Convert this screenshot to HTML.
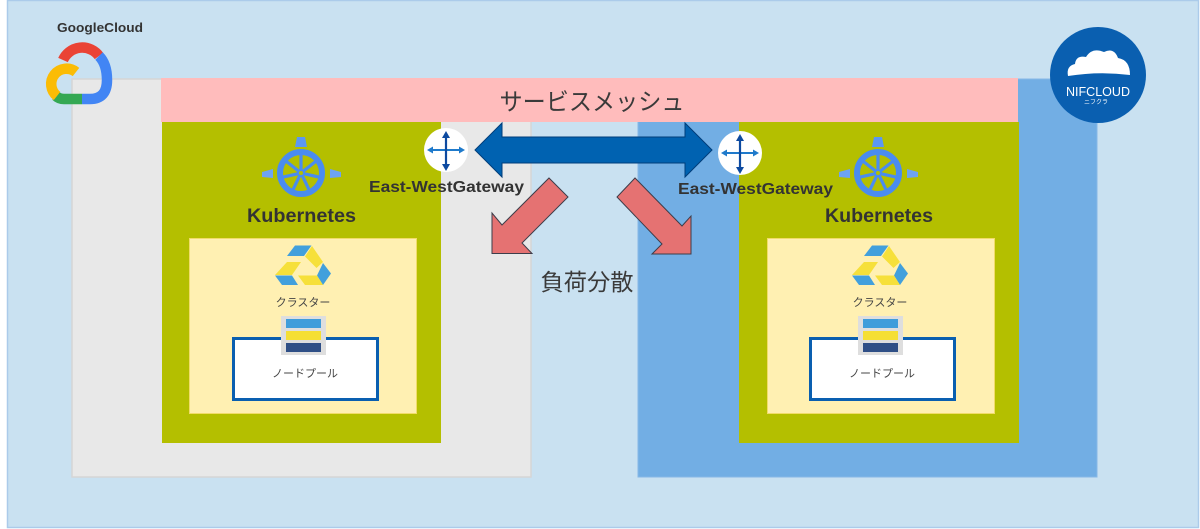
<!DOCTYPE html>
<html>
<head>
<meta charset="utf-8">
<style>
html,body{margin:0;padding:0;background:#fff;}
svg{display:block;}
text{font-family:"Liberation Sans","Noto Sans CJK JP",sans-serif;}
</style>
</head>
<body>
<svg width="1200" height="529" viewBox="0 0 1200 529" xmlns="http://www.w3.org/2000/svg">
  <!-- outer background -->
  <rect x="7.5" y="0.5" width="1191" height="527" fill="#c9e1f1" stroke="#abcbea" stroke-width="1.5"/>

  <!-- Google Cloud gray area -->
  <rect x="72" y="79" width="459" height="398" fill="#e8e8e8" stroke="#d6d6d6" stroke-width="1.5"/>
  <!-- NIFCLOUD blue area -->
  <rect x="638" y="79" width="459" height="398" fill="#72aee4" stroke="#86b8e6" stroke-width="1"/>

  <!-- service mesh band -->
  <rect x="161" y="78" width="857" height="44" fill="#ffbcbc"/>
  <text x="592" y="110" font-size="24" fill="#3a3a3a" text-anchor="middle" textLength="185" lengthAdjust="spacingAndGlyphs">サービスメッシュ</text>

  <!-- green k8s areas -->
  <rect x="162" y="122" width="279" height="321" fill="#b4bf00"/>
  <rect x="739" y="122" width="280" height="321" fill="#b4bf00"/>

  <!-- yellow cluster areas -->
  <rect x="189.5" y="238.5" width="227" height="175" fill="#fff0b2" stroke="#f1dc6a" stroke-width="1"/>
  <rect x="767.5" y="238.5" width="227" height="175" fill="#fff0b2" stroke="#f1dc6a" stroke-width="1"/>

  <!-- Kubernetes logos -->
  <g id="k8s">
    <polygon points="297,137 305,137 307,147 295,147" fill="#5b97f3"/>
    <polygon points="262,172 273,169 273,178 262,177" fill="#6da3f3"/>
    <polygon points="341,172 330,169 330,178 341,177" fill="#6da3f3"/>
    <circle cx="301" cy="173" r="21" fill="none" stroke="#4a8cf0" stroke-width="6"/>
    <circle cx="301" cy="173" r="3" fill="none" stroke="#4a8cf0" stroke-width="2"/>
    <g stroke="#4a8cf0" stroke-width="3.2" stroke-linecap="round">
      <line x1="301" y1="169" x2="301" y2="154"/>
      <line x1="304.1" y1="170.5" x2="315.9" y2="161.2"/>
      <line x1="304.9" y1="173.9" x2="319.5" y2="177.2"/>
      <line x1="302.7" y1="176.6" x2="309.2" y2="190.1"/>
      <line x1="299.3" y1="176.6" x2="292.8" y2="190.1"/>
      <line x1="297.1" y1="173.9" x2="282.5" y2="177.2"/>
      <line x1="297.9" y1="170.5" x2="286.1" y2="161.2"/>
    </g>
  </g>
  <use href="#k8s" x="577" y="0"/>
  <text x="301.5" y="222" font-size="19" font-weight="bold" fill="#333" text-anchor="middle" textLength="109" lengthAdjust="spacingAndGlyphs">Kubernetes</text>
  <text x="879" y="222" font-size="19" font-weight="bold" fill="#333" text-anchor="middle" textLength="108" lengthAdjust="spacingAndGlyphs">Kubernetes</text>

  <!-- Cluster icons -->
  <g id="cluster">
    <polygon points="287,256 295,245.5 311.5,245.5 304,256" fill="#42a0dc"/>
    <polygon points="312,246 323,262 316.5,268 305,256.5" fill="#f6e03a"/>
    <polygon points="323,263 331,273.5 323,285 317,275.5" fill="#42a0dc"/>
    <polygon points="298,275.5 317,275.5 323,285 305,285" fill="#f6e03a"/>
    <polygon points="275,275.5 292,275.5 298,285 282,285" fill="#42a0dc"/>
    <polygon points="287,262 301,262 292,275 275,275" fill="#f6e03a"/>
  </g>
  <use href="#cluster" x="577" y="0"/>
  <text x="303" y="306" font-size="11" fill="#444" text-anchor="middle">クラスター</text>
  <text x="880" y="306" font-size="11" fill="#444" text-anchor="middle">クラスター</text>

  <!-- Node pool boxes -->
  <g id="np">
    <rect x="233.5" y="338.5" width="144" height="61" fill="#fff" stroke="#0a5fb0" stroke-width="3"/>
    <text x="305" y="377" font-size="11" fill="#444" text-anchor="middle">ノードプール</text>
    <rect x="281" y="316" width="45" height="39" fill="#dedede"/>
    <rect x="286" y="319" width="35" height="9" fill="#3f9ddb"/>
    <rect x="286" y="331" width="35" height="9" fill="#f5df34"/>
    <rect x="286" y="343" width="35" height="9" fill="#2f4f86"/>
  </g>
  <use href="#np" x="577" y="0"/>

  <!-- Double arrow -->
  <polygon points="475,150 502,123 502,137 685,137 685,123 712,150 685,177 685,163 502,163 502,177" fill="#0062b1" stroke="#003d7a" stroke-width="1"/>

  <!-- Red load-balancing arrows -->
  <polygon points="549,178 568,197 522,243 532,253.5 492,253.5 492,213 502,225" fill="#e57272" stroke="#3d3d4a" stroke-width="1"/>
  <polygon points="635,178 617,197 662,244 652,254 691,254 691,216 682,226" fill="#e57272" stroke="#3d3d4a" stroke-width="1"/>
  <text x="587" y="290" font-size="23" fill="#3a3a3a" text-anchor="middle" textLength="93" lengthAdjust="spacingAndGlyphs">負荷分散</text>

  <!-- Gateways -->
  <g id="gw">
    <circle cx="446" cy="150" r="22" fill="#fff"/>
    <g stroke="#1f7acb" stroke-width="2" fill="#1f7acb">
      <line x1="431" y1="150" x2="461" y2="150"/>
      <polygon points="427,150 433,146.5 433,153.5" stroke="none"/>
      <polygon points="465,150 459,146.5 459,153.5" stroke="none"/>
    </g>
    <g stroke="#0d4aa0" stroke-width="2.2" fill="#0d4aa0">
      <line x1="446" y1="136" x2="446" y2="166"/>
      <polygon points="446,131 442,138 450,138" stroke="none"/>
      <polygon points="446,171 442,164 450,164" stroke="none"/>
    </g>
  </g>
  <use href="#gw" x="294" y="3"/>
  <text x="446.5" y="192" font-size="15.5" font-weight="bold" fill="#333" text-anchor="middle" textLength="155" lengthAdjust="spacingAndGlyphs">East-WestGateway</text>
  <text x="755.5" y="194" font-size="15.5" font-weight="bold" fill="#333" text-anchor="middle" textLength="155" lengthAdjust="spacingAndGlyphs">East-WestGateway</text>

  <!-- Google Cloud logo -->
  <text x="100" y="32" font-size="13" font-weight="bold" fill="#333" text-anchor="middle" textLength="86" lengthAdjust="spacingAndGlyphs">GoogleCloud</text>
  <g fill="none" stroke-width="10.5">
    <path d="M63,60 A21,21 0 0 1 99,56" stroke="#ea4335"/>
    <path d="M99,56 Q107,64 107,80 Q107,99 90,99 L82,99" stroke="#4285f4"/>
    <path d="M82,99 L64,99 Q59,99 56,96" stroke="#34a853"/>
    <path d="M57,96 A14,14 0 0 1 76,72" stroke="#fbbc05"/>
  </g>

  <!-- NIFCLOUD logo -->
  <circle cx="1098" cy="75" r="48" fill="#0a5fb0"/>
  <path d="M1068,76 Q1066,66 1075,64 Q1076,55 1086,57 Q1092,47 1104,52 Q1114,47 1118,58 Q1130,60 1130,75 Q1099,71 1068,76 Z" fill="#fff"/>
  <text x="1098" y="96" font-size="13" fill="#fff" text-anchor="middle" textLength="64" lengthAdjust="spacingAndGlyphs">NIFCLOUD</text>
  <text x="1096" y="104" font-size="6" fill="#fff" text-anchor="middle">ニフクラ</text>
</svg>
</body>
</html>
